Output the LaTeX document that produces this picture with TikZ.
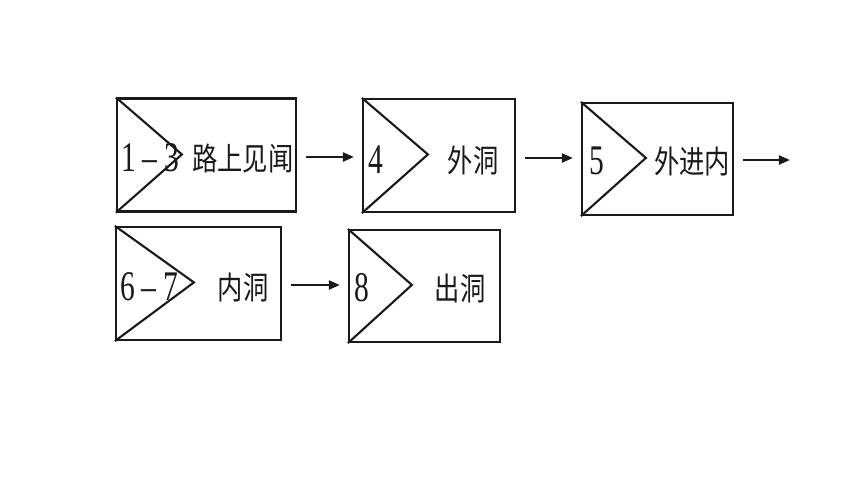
\documentclass[tikz,border=0pt]{standalone}
\usepackage{fontspec}
\usepackage{tikz}
\usetikzlibrary{arrows.meta,positioning,calc}
\newfontfamily\cjk[FakeStretch=0.8]{Noto Sans CJK SC}
\newfontfamily\numfont[FakeStretch=0.7]{Liberation Serif}
\definecolor{ink}{HTML}{1A1A1A}

\begin{document}
\begin{tikzpicture}[x=0.01cm,y=-0.01cm,line width=0.6pt,>={Triangle[length=0.11cm,width=0.09cm]},
  stage/.style={draw=ink,rectangle,inner sep=0pt,minimum height=1.13cm},
  num/.style={font=\fontsize{12}{12}\numfont,ink,anchor=west,inner sep=0pt},
  word/.style={font=\fontsize{9}{9}\cjk,ink,inner sep=0pt},
  flow/.style={->,ink,shorten <=0.09cm,shorten >=0.08cm}]

\useasboundingbox (0,0) rectangle (860,484);

% first row
\node[stage,minimum width=1.79cm] (s13) at (206.5,155) {};
\node[stage,minimum width=1.52cm] (s4) at (439,155.5) {};
\node[stage,minimum width=1.51cm,minimum height=1.12cm] (s5) at (657.5,159) {};
% second row
\node[stage,minimum width=1.65cm] (s67) at (198.5,283.5) {};
\node[stage,minimum width=1.51cm,minimum height=1.12cm] (s8) at (424.5,286) {};

% chevrons
\draw[ink] (s13.north west) -- ++(66,57) -- (s13.south west);
\draw[ink] (s4.north west) -- ++(66,56.5) -- (s4.south west);
\draw[ink] (s5.north west) -- ++(65,56) -- (s5.south west);
\draw[ink] (s67.north west) -- ++(79,56.5) -- (s67.south west);
\draw[ink] (s8.north west) -- ++(64,56) -- (s8.south west);

% labels
\node[num] (n13) at (120,158) {1\,–\,3};
\node[word] (w13) at (243,158) {路上见闻};
\node[num] (n4) at (367,160) {4};
\node[word] (w4) at (473,160) {外洞};
\node[num] (n5) at (588,161) {5};
\node[word] (w5) at (692,161) {外进内};
\node[num] (n67) at (119,287) {6\,–\,7};
\node[word] (w67) at (243,287) {内洞};
\node[num] (n8) at (353,288) {8};
\node[word] (w8) at (460,288) {出洞};

\coordinate (out) at (790,160);

% connectors
\draw[flow] (s13.east |- 0,157) -- (s4.west |- 0,157);
\draw[flow] (s4.east |- 0,158) -- (s5.west |- 0,158);
\draw[flow,shorten >=0cm] (s5.east |- out) -- (out);
\draw[flow] (s67.east |- 0,285) -- (s8.west |- 0,285);
\end{tikzpicture}
\end{document}
